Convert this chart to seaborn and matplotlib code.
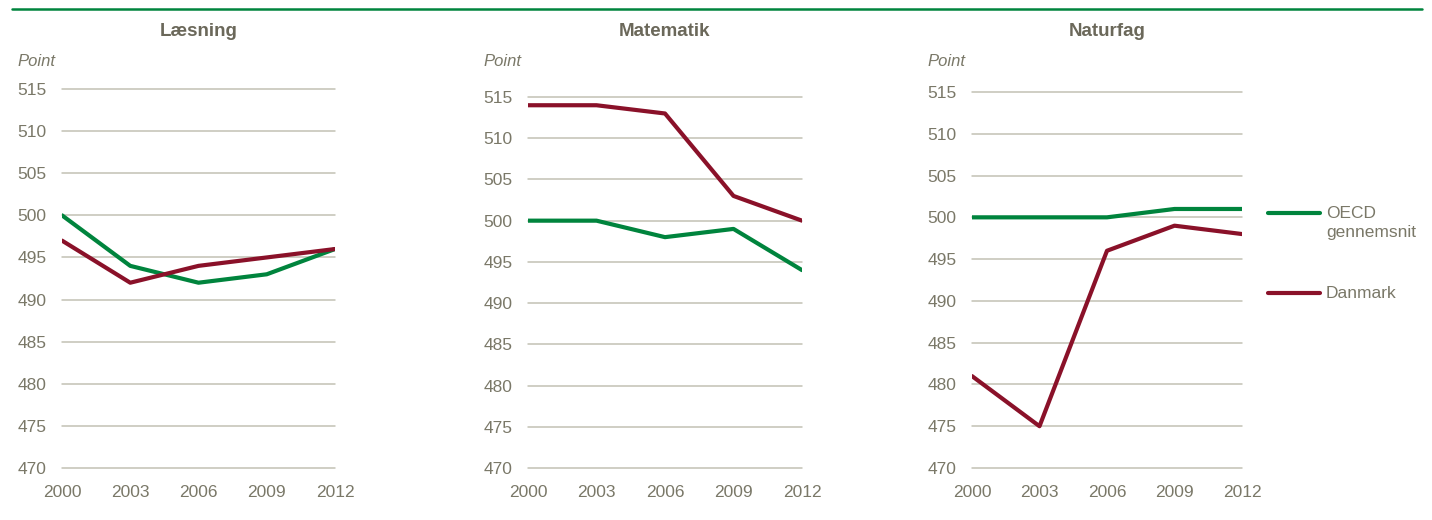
import pandas as pd
import seaborn as sns
import matplotlib.pyplot as plt
from matplotlib import font_manager
from matplotlib.lines import Line2D

# Data
years = [2000, 2003, 2006, 2009, 2012]
subjects = ["Læsning", "Matematik", "Naturfag"]
oecd_laesning = [500, 494, 492, 493, 496]
dk_laesning = [497, 492, 494, 495, 496]
oecd_matematik = [500, 500, 498, 499, 494]
dk_matematik = [514, 514, 513, 503, 500]
oecd_naturfag = [500, 500, 500, 501, 501]
dk_naturfag = [481, 475, 496, 499, 498]
series_names = ["OECD\ngennemsnit", "Danmark"]
y_ticks = [470, 475, 480, 485, 490, 495, 500, 505, 510, 515]

GREEN = "#00843D"
RED = "#8A1129"
TEXT = "#7A7868"
TITLE = "#6B685A"
GRID = "#C2C1B4"

sns.set_theme(style="white")
names = {f.name for f in font_manager.fontManager.ttflist}
narrow = "Liberation Sans Narrow" if "Liberation Sans Narrow" in names else "Liberation Sans"
plt.rcParams["font.family"] = ["Liberation Sans", "DejaVu Sans"]

fig = plt.figure(figsize=(14.32, 5.2), dpi=100)

# axes boxes in pixels: left, right, top(515 line)
boxes = [(62, 335, 89), (528, 802, 97), (972, 1242, 92)]
data = [(oecd_laesning, dk_laesning), (oecd_matematik, dk_matematik),
        (oecd_naturfag, dk_naturfag)]

for (l, r, t), title, (oecd, dk) in zip(boxes, subjects, data):
    bottom = 1 - 468 / 520
    ax = fig.add_axes([l / 1432, bottom, (r - l) / 1432, (1 - t / 520) - bottom])
    df = pd.DataFrame({"År": years * 2, "Point": oecd + dk,
                       "Serie": [series_names[0]] * 5 + [series_names[1]] * 5})
    sns.lineplot(data=df, x="År", y="Point", hue="Serie",
                 palette=[GREEN, RED], linewidth=3.0, ax=ax, legend=False)
    ax.set_xlim(2000, 2012)
    ax.set_ylim(470, 515)
    ax.set_xticks(years)
    ax.set_yticks(y_ticks)
    ax.set_xlabel("")
    ax.set_ylabel("")
    for s in ax.spines.values():
        s.set_visible(False)
    ax.grid(axis="y", color=GRID, linewidth=1.1)
    for g in ax.get_ygridlines():
        g.set_clip_on(False)
    ax.set_axisbelow(True)
    ax.tick_params(axis="both", length=0, labelsize=12.5, colors=TEXT)
    ax.tick_params(axis="x", pad=12)
    ax.tick_params(axis="y", pad=11)
    for lab in ax.get_xticklabels() + ax.get_yticklabels():
        lab.set_fontfamily(narrow)
    cx = (l + r) / 2 / 1432
    fig.text(cx, 1 - 31 / 520, title, ha="center", va="center",
             fontsize=13.5, fontweight="bold", color=TITLE)
    fig.text((l - 45) / 1432, 1 - 62 / 520, "Point", ha="left", va="center",
             fontsize=12, style="italic", color=TEXT)

# top rule
fig.add_artist(Line2D([12 / 1432, 1422 / 1432], [1 - 9 / 520] * 2,
                      color=GREEN, linewidth=1.8))

# legend
for ypx, name, col in [(213, series_names[0], GREEN), (293, series_names[1], RED)]:
    fig.add_artist(Line2D([1268 / 1432, 1320 / 1432], [1 - ypx / 520] * 2,
                          color=col, linewidth=3.0, solid_capstyle="round"))
    fig.text(1326 / 1432, 1 - (ypx - 7) / 520, name, ha="left", va="top",
             fontsize=12.5, color=TEXT, family=narrow, linespacing=1.3)

fig.savefig("out.png", dpi=100)
